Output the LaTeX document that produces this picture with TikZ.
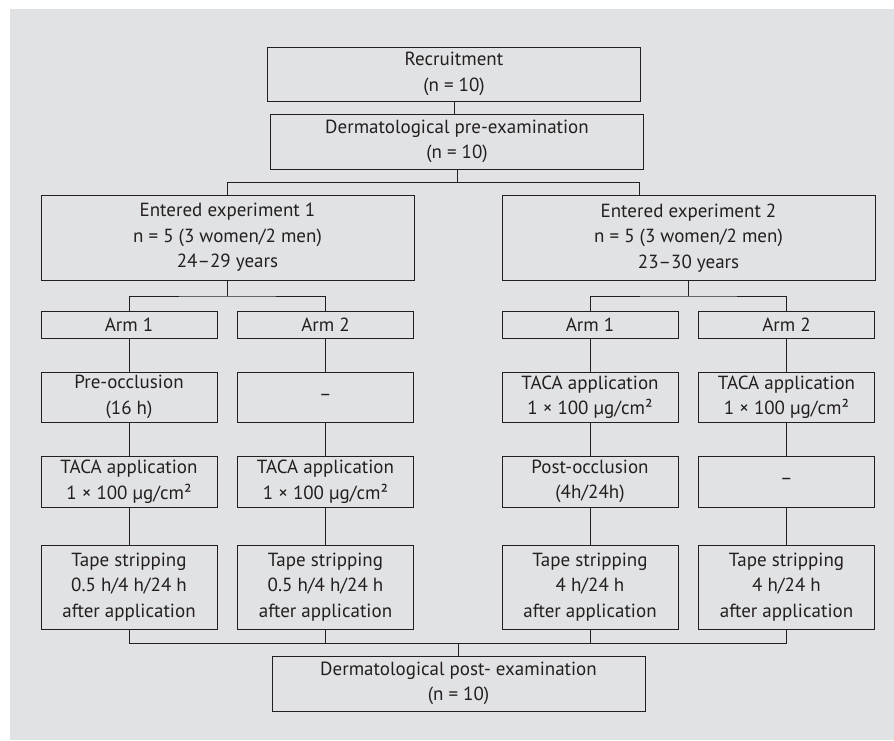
\documentclass[tikz,border=0pt]{standalone}
\usepackage{fontspec}
\setmainfont{PT Sans}
\usepackage{xcolor}
\usepackage{tikz}
\usetikzlibrary{positioning}
\definecolor{bggray}{RGB}{225,226,228}
\definecolor{inkc}{RGB}{35,31,32}

\begin{document}
\begin{tikzpicture}[x=1pt, y=-1pt, every node/.style={align=center}]
\tikzset{
  flowbox/.style={draw=inkc, line width=1pt, text=inkc, inner sep=0pt, font=\fontsize{19}{25.5}\selectfont},
  widebox/.style={flowbox, minimum width=373pt},
  armbox/.style={flowbox, minimum width=176pt, minimum height=27pt},
  treatbox/.style={flowbox, minimum width=176pt, minimum height=51pt},
  tapebox/.style={flowbox, minimum width=176pt, minimum height=84pt},
  link/.style={draw=inkc, line width=1pt}
}
\useasboundingbox (0,0) rectangle (894,740);
\fill[bggray] (10,9) rectangle (894,740);
\node[widebox, minimum height=54pt] (recruit) at (454,74) {Recruitment\\(n = 10)};
\node[widebox, minimum height=55pt] (preexam) at (457,141.5) {Dermatological pre-examination\\(n = 10)};
\node[widebox, minimum height=85pt] (exp1) at (227.5,237.5) {Entered experiment 1\\n = 5 (3 women/2 men)\\24–29 years};
\node[widebox, minimum height=85pt] (exp2) at (688.5,238) {Entered experiment 2\\n = 5 (3 women/2 men)\\23–30 years};
\node[armbox] (armA1) at (129,324.5) {Arm 1};
\node[armbox] (armA2) at (325.5,324.5) {Arm 2};
\node[armbox] (armB1) at (590,324.5) {Arm 1};
\node[armbox] (armB2) at (786.5,324.5) {Arm 2};
\node[treatbox, minimum height=50pt] (preA1) at (129,397) {Pre-occlusion\\(16 h)};
\node[treatbox, minimum height=50pt] (preA2) at (325.5,397) {–};
\node[treatbox, minimum height=50pt] (tacaB1) at (590,397) {TACA application\\1 × 100 µg/cm²};
\node[treatbox, minimum height=50pt] (tacaB2) at (786.5,397) {TACA application\\1 × 100 µg/cm²};
\node[treatbox] (tacaA1) at (129,481.5) {TACA application\\1 × 100 µg/cm²};
\node[treatbox] (tacaA2) at (325.5,481.5) {TACA application\\1 × 100 µg/cm²};
\node[treatbox] (postB1) at (590,481.5) {Post-occlusion\\(4h/24h)};
\node[treatbox] (postB2) at (786.5,481.5) {–};
\node[tapebox] (tapeA1) at (129,587) {Tape stripping\\0.5 h/4 h/24 h\\after application};
\node[tapebox] (tapeA2) at (325.5,587) {Tape stripping\\0.5 h/4 h/24 h\\after application};
\node[tapebox] (tapeB1) at (590,587) {Tape stripping\\4 h/24 h\\after application};
\node[tapebox] (tapeB2) at (786.5,587) {Tape stripping\\4 h/24 h\\after application};
\node[widebox, minimum height=55pt] (postexam) at (458.5,683.5) {Dermatological post- examination\\(n = 10)};
\draw[link] (recruit.south) -- (recruit.south |- preexam.north);
\coordinate (split) at (457,182);
\coordinate (drop2) at (639,182);
\draw[link] (preexam.south) -- (split);
\draw[link] (exp1.north) |- (drop2) -- (drop2 |- exp2.north);
\coordinate (forkA) at (227.5,296);
\coordinate (forkB) at (688.5,296);
\draw[link] (exp1.south) -- (forkA);
\draw[link] (armA1.north) |- (forkA) -| (armA2.north);
\draw[link] (exp2.south) -- (forkB);
\draw[link] (armB1.north) |- (forkB) -| (armB2.north);
\draw[link] (armA1) -- (preA1) -- (tacaA1) -- (tapeA1);
\draw[link] (armA2) -- (preA2) -- (tacaA2) -- (tapeA2);
\draw[link] (armB1) -- (tacaB1) -- (postB1) -- (tapeB1);
\draw[link] (armB2) -- (tacaB2) -- (postB2) -- (tapeB2);
\coordinate (merge) at (458.5,643);
\draw[link] (tapeA1.south) |- (merge) -| (tapeB2.south);
\draw[link] (tapeA2.south) -- (tapeA2.south |- merge);
\draw[link] (tapeB1.south) -- (tapeB1.south |- merge);
\draw[link] (merge) -- (postexam.north);
\end{tikzpicture}
\end{document}
